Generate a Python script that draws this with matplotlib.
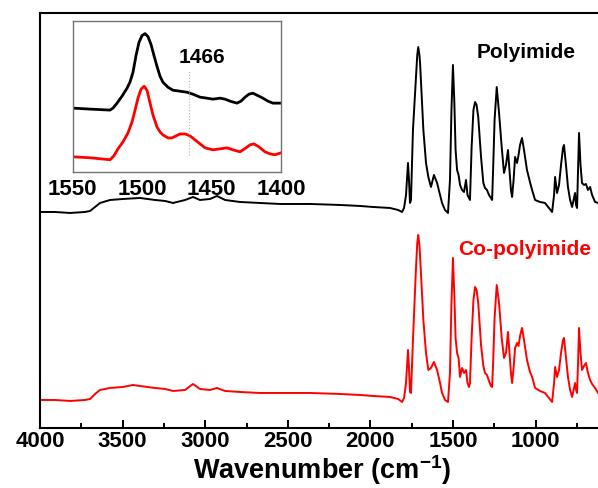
import numpy as np
import matplotlib
matplotlib.use("Agg")
import matplotlib.pyplot as plt
from matplotlib.ticker import MultipleLocator

plt.rcParams['font.family'] = ['Liberation Sans', 'DejaVu Sans']
plt.rcParams['font.weight'] = 'bold'
plt.rcParams['mathtext.fontset'] = 'custom'
plt.rcParams['mathtext.rm'] = 'Liberation Sans:bold'
plt.rcParams['mathtext.bf'] = 'Liberation Sans:bold'
plt.rcParams['mathtext.default'] = 'bf'

# Polyimide spectrum: (wavenumber cm-1, intensity a.u.)
polyimide = [
    (4000, 216), (3909, 216), (3818, 215), (3728, 216), (3697, 217), (3667, 221),
    (3637, 225), (3576, 228), (3498, 229), (3395, 230), (3304, 228), (3243, 227),
    (3195, 225), (3122, 228), (3074, 231), (3032, 228), (2971, 229), (2929, 232),
    (2880, 228), (2790, 226), (2669, 225), (2548, 224), (2366, 224), (2184, 223),
    (2063, 222), (1985, 221), (1882, 220), (1833, 218), (1809, 216),
    (1797, 220), (1785, 233), (1773, 265), (1767, 248), (1761, 225), (1755, 228),
    (1743, 298), (1726, 348), (1717, 373), (1711, 381), (1704, 373), (1700, 365),
    (1690, 331), (1680, 298), (1664, 265), (1650, 251), (1634, 241), (1616, 253),
    (1597, 245), (1579, 233), (1567, 225), (1549, 218), (1531, 215), (1519, 248),
    (1510, 318), (1501, 363), (1493, 328), (1485, 278), (1476, 258), (1467, 253),
    (1458, 243), (1446, 238), (1434, 236), (1422, 248), (1413, 233), (1404, 230),
    (1398, 228), (1388, 281), (1377, 318), (1367, 326), (1358, 323), (1348, 311),
    (1331, 271), (1317, 245), (1307, 240), (1295, 238), (1283, 233), (1271, 230),
    (1264, 228), (1258, 258), (1249, 308), (1236, 341), (1222, 315), (1206, 281),
    (1192, 255), (1180, 263), (1168, 278), (1159, 258), (1150, 238), (1143, 231),
    (1134, 248), (1125, 271), (1113, 265), (1104, 273), (1095, 283), (1083, 290),
    (1071, 278), (1053, 258), (1035, 246), (1022, 238), (1004, 228), (974, 226),
    (944, 225), (920, 220), (901, 216), (889, 233), (883, 251), (871, 235),
    (859, 243), (847, 263), (835, 280), (829, 283), (817, 263), (805, 241),
    (792, 228), (780, 221), (768, 230), (762, 235), (756, 223), (750, 220),
    (744, 258), (738, 295), (729, 263), (720, 245), (708, 243), (696, 244),
    (684, 238), (671, 241), (659, 233), (641, 226), (623, 225), (599, 224),
    (587, 223),
]

# Co-polyimide spectrum
copolyimide = [
    (4000, 28), (3909, 28), (3818, 27), (3728, 28), (3697, 29), (3667, 34),
    (3637, 38), (3576, 40), (3498, 41), (3437, 43), (3395, 42), (3304, 40),
    (3243, 39), (3195, 37), (3122, 38), (3074, 44), (3032, 39), (2971, 38),
    (2929, 40), (2880, 37), (2790, 36), (2669, 35), (2548, 35), (2366, 35),
    (2184, 34), (2063, 33), (1985, 32), (1882, 31), (1833, 29), (1809, 26),
    (1797, 30), (1785, 45), (1773, 78), (1767, 60), (1761, 36), (1755, 35),
    (1743, 88), (1726, 155), (1717, 185), (1711, 193), (1704, 183), (1700, 172),
    (1690, 140), (1680, 108), (1664, 75), (1650, 58), (1634, 60), (1616, 66),
    (1597, 58), (1579, 45), (1567, 35), (1549, 28), (1531, 26), (1519, 55),
    (1510, 125), (1501, 170), (1493, 135), (1485, 90), (1476, 75), (1467, 70),
    (1458, 51), (1446, 60), (1434, 55), (1422, 58), (1413, 45), (1404, 41),
    (1398, 45), (1388, 90), (1377, 128), (1367, 141), (1358, 138), (1348, 125),
    (1331, 83), (1317, 62), (1307, 55), (1295, 53), (1283, 47), (1271, 42),
    (1264, 41), (1258, 65), (1249, 110), (1236, 143), (1222, 125), (1206, 90),
    (1192, 70), (1180, 75), (1168, 96), (1159, 75), (1150, 55), (1143, 45),
    (1134, 60), (1125, 80), (1113, 85), (1104, 82), (1095, 92), (1083, 100),
    (1071, 88), (1053, 68), (1035, 56), (1022, 51), (1004, 40), (974, 37),
    (944, 35), (920, 30), (901, 26), (889, 45), (883, 61), (871, 51),
    (859, 58), (847, 75), (835, 88), (829, 90), (817, 70), (805, 51),
    (792, 38), (780, 31), (768, 40), (762, 45), (756, 38), (750, 35),
    (744, 65), (738, 100), (729, 75), (720, 58), (708, 62), (696, 65),
    (684, 55), (671, 48), (659, 44), (641, 40), (623, 35), (599, 33),
    (587, 33),
]

# inset, 1550-1400 cm-1
inset_polyimide = [
    (1550, 64), (1537.5, 63), (1523.1, 62), (1521.0, 64), (1518.1, 69), (1514.5, 76),
    (1510.9, 84), (1508.8, 90), (1506.6, 100), (1504.4, 117), (1502.3, 130),
    (1500.1, 137), (1497.9, 139), (1495.8, 136), (1493.6, 128), (1491.5, 117),
    (1489.3, 106), (1487.1, 96), (1485.0, 90), (1481.4, 85), (1477.8, 82),
    (1472.7, 81), (1467.7, 80), (1463.4, 78), (1458.3, 75), (1453.3, 74),
    (1449.0, 73), (1443.9, 74), (1440.3, 73), (1436.7, 71), (1431.7, 69),
    (1428.8, 71), (1425.9, 75), (1423.1, 78), (1420.2, 79), (1417.3, 77),
    (1413.0, 74), (1409.4, 71), (1405.8, 69), (1400.0, 69),
]
inset_copolyimide = [
    (1550, 15), (1537.5, 14), (1523.1, 12), (1520.3, 16), (1517.4, 23), (1513.8, 30),
    (1510.2, 39), (1507.3, 50), (1505.1, 62), (1503.0, 74), (1500.8, 83),
    (1498.6, 86), (1496.5, 82), (1494.3, 69), (1492.2, 57), (1489.3, 45),
    (1487.1, 40), (1485.0, 37), (1481.4, 34), (1478.5, 34), (1475.6, 36),
    (1472.7, 38), (1469.1, 38), (1465.5, 36), (1461.9, 32), (1458.3, 28),
    (1454.7, 24), (1449.0, 22), (1443.9, 23), (1438.9, 24), (1434.6, 22),
    (1429.5, 20), (1425.2, 24), (1422.3, 27), (1419.5, 28), (1415.9, 25),
    (1411.6, 20), (1408.0, 18), (1404.3, 17), (1400.0, 19),
]
marker_wn = 1466

wn_pi, ab_pi = zip(*polyimide)
wn_co, ab_co = zip(*copolyimide)
wn_ipi, ab_ipi = zip(*inset_polyimide)
wn_ico, ab_ico = zip(*inset_copolyimide)

fig = plt.figure(figsize=(5.98, 4.88), dpi=100)
ax = fig.add_axes([0.0669, 0.123, 0.9431, 0.8504])

ax.plot(wn_pi, ab_pi, color='black', lw=1.4)
ax.plot(wn_co, ab_co, color='red', lw=1.4)
ax.set_xlim(4000, 587)
ax.set_ylim(0, 415)
ax.xaxis.set_major_locator(MultipleLocator(500))
ax.xaxis.set_minor_locator(MultipleLocator(250))
ax.set_yticks([])
ax.tick_params(axis='x', which='major', direction='in', length=6, width=1.4,
               labelsize=16, pad=2.5)
ax.tick_params(axis='x', which='minor', direction='in', length=3.5, width=1.4)
for lab in ax.get_xticklabels():
    lab.set_fontweight('bold')
for s in ax.spines.values():
    s.set_linewidth(1.5)
ax.set_xlabel('Wavenumber (cm$^{-1}$)', fontsize=19.5, fontweight='bold', labelpad=0.5)

ax.text(1059, 375, 'Polyimide', fontsize=15, fontweight='bold',
        color='black', ha='center', va='center')
ax.text(1065, 178, 'Co-polyimide', fontsize=15, fontweight='bold',
        color='red', ha='center', va='center')

# inset
axin = fig.add_axes([0.1216, 0.6482, 0.3483, 0.3094])
axin.plot(wn_ipi, ab_ipi, color='black', lw=2)
axin.plot(wn_ico, ab_ico, color='red', lw=2)
axin.plot([marker_wn, marker_wn], [17, 102], color='0.7', lw=0.8, ls=':')
axin.set_xlim(1550, 1400)
axin.set_ylim(0, 152)
axin.set_xticks([1550, 1500, 1450, 1400])
axin.set_yticks([])
axin.tick_params(axis='x', length=0, labelsize=16, pad=5)
for lab in axin.get_xticklabels():
    lab.set_fontweight('bold')
for s in axin.spines.values():
    s.set_color('0.45')
    s.set_linewidth(1)
axin.text(1457, 115, '1466', fontsize=15, fontweight='bold',
          ha='center', va='center')

fig.savefig('out.png', dpi=100)
